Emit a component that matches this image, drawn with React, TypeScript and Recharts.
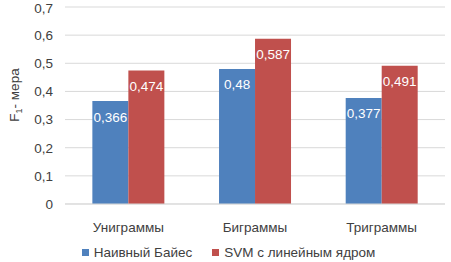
import React from "react";
import { BarChart, Bar, XAxis, YAxis, CartesianGrid, LabelList, Legend } from "recharts";

const categories = ["Униграммы", "Биграммы", "Триграммы"];
const naiveBayes = [0.366, 0.48, 0.377];
const svmLinear = [0.474, 0.587, 0.491];
const seriesNames = ["Наивный Байес", "SVM с линейным ядром"];
const yTicks = [0, 0.1, 0.2, 0.3, 0.4, 0.5, 0.6, 0.7];

const data = categories.map((c, i) => ({ name: c, nb: naiveBayes[i], svm: svmLinear[i] }));

const FONT = "'Liberation Sans', Arial, sans-serif";
const BLUE = "#4F81BD";
const RED = "#C0504D";
const fmt = (v: number) => String(v).replace(".", ",");

const LegendContent = () => (
  <div style={{ display: "flex", justifyContent: "center", fontFamily: FONT, fontSize: 13.5, color: "#404040", gap: 20, paddingLeft: 12, height: 20, alignItems: "center" }}>
    {[BLUE, RED].map((c, i) => (
      <div key={i} style={{ display: "flex", alignItems: "center" }}>
        <span style={{ display: "inline-block", width: 7, height: 7, background: c, marginRight: 5 }} />
        <span>{seriesNames[i]}</span>
      </div>
    ))}
  </div>
);

const YLabel = () => (
  <text x={19} y={95} transform="rotate(-90 19 95)" textAnchor="middle" fontFamily={FONT} fontSize={13.5} fill="#404040">
    F<tspan fontSize={9} dy={3}>1</tspan><tspan dy={-3}>- мера</tspan>
  </text>
);

export default function App() {
  return (
    <div style={{ position: "absolute", left: 0, top: 0 }}>
      <BarChart width={451} height={262} data={data} margin={{ top: 7, right: 6, left: 0, bottom: 0 }} barCategoryGap="21.6%" barGap={0}>
        <CartesianGrid vertical={false} stroke="#D9D9D9" />
        <XAxis dataKey="name" axisLine={{ stroke: "#D9D9D9" }} tickLine={false} height={38} tickMargin={12}
          tick={{ fontFamily: FONT, fontSize: 13.5, fill: "#404040" }} />
        <YAxis domain={[0, 0.7]} ticks={yTicks} width={65} axisLine={false} tickLine={false} tickMargin={6}
          tickFormatter={fmt} tick={{ fontFamily: FONT, fontSize: 13.5, fill: "#404040" }} label={<YLabel />} />
        <Legend verticalAlign="bottom" height={20} content={<LegendContent />} />
        <Bar dataKey="nb" fill={BLUE} isAnimationActive={false}>
          <LabelList dataKey="nb" position="insideTop" offset={11} formatter={fmt} fill="#fff" fontFamily={FONT} fontSize={13.5} />
        </Bar>
        <Bar dataKey="svm" fill={RED} isAnimationActive={false}>
          <LabelList dataKey="svm" position="insideTop" offset={11} formatter={fmt} fill="#fff" fontFamily={FONT} fontSize={13.5} />
        </Bar>
      </BarChart>
    </div>
  );
}
